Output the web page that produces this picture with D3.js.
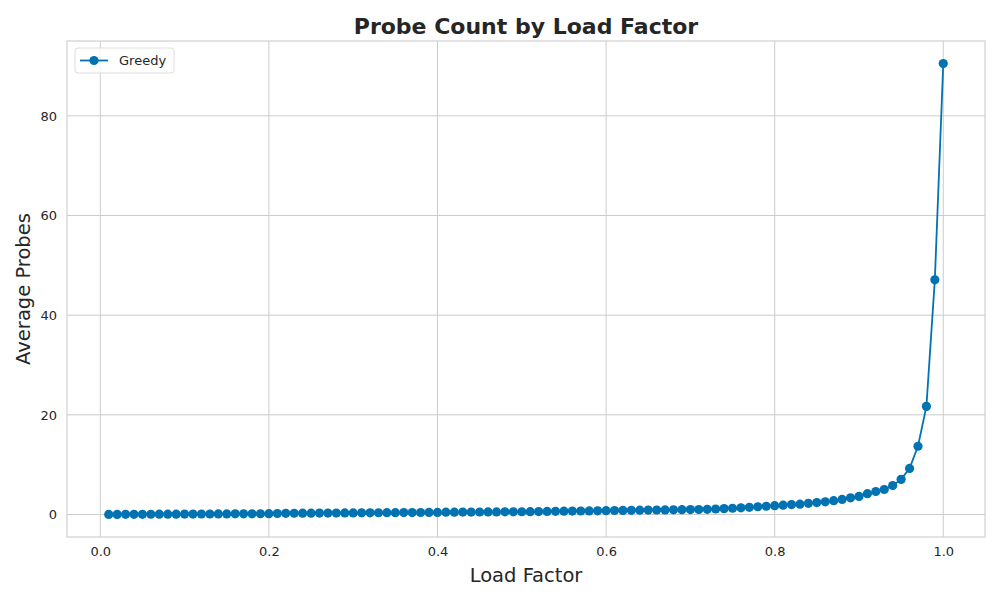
<!DOCTYPE html>
<html>
<head>
<meta charset="utf-8">
<script src="https://cdn.jsdelivr.net/npm/d3@7"></script>
<style>
  body { margin: 0; background: #fff; }
  svg { display: block; font-family: "DejaVu Sans", sans-serif; }
</style>
</head>
<body>
<div id="chart"></div>
<script>
/// chart data: load factors 0.01 .. 1.00 and average probe counts
var loadFactors = [
  0.01,0.02,0.03,0.04,0.05,0.06,0.07,0.08,0.09,0.10,
  0.11,0.12,0.13,0.14,0.15,0.16,0.17,0.18,0.19,0.20,
  0.21,0.22,0.23,0.24,0.25,0.26,0.27,0.28,0.29,0.30,
  0.31,0.32,0.33,0.34,0.35,0.36,0.37,0.38,0.39,0.40,
  0.41,0.42,0.43,0.44,0.45,0.46,0.47,0.48,0.49,0.50,
  0.51,0.52,0.53,0.54,0.55,0.56,0.57,0.58,0.59,0.60,
  0.61,0.62,0.63,0.64,0.65,0.66,0.67,0.68,0.69,0.70,
  0.71,0.72,0.73,0.74,0.75,0.76,0.77,0.78,0.79,0.80,
  0.81,0.82,0.83,0.84,0.85,0.86,0.87,0.88,0.89,0.90,
  0.91,0.92,0.93,0.94,0.95,0.96,0.97,0.98,0.99,1.00
]
var greedyProbes = [
  0.01,0.02,0.03,0.04,0.04,0.05,0.06,0.07,0.07,0.08,
  0.09,0.10,0.10,0.11,0.12,0.13,0.13,0.14,0.15,0.16,
  0.20,0.24,0.25,0.26,0.27,0.28,0.29,0.30,0.31,0.32,
  0.33,0.34,0.35,0.36,0.37,0.38,0.39,0.40,0.41,0.42,
  0.46,0.47,0.48,0.49,0.50,0.51,0.52,0.53,0.54,0.55,
  0.57,0.59,0.62,0.64,0.66,0.68,0.70,0.72,0.74,0.76,
  0.80,0.82,0.84,0.86,0.88,0.90,0.92,0.94,0.96,0.98,
  1.00,1.04,1.10,1.18,1.26,1.34,1.45,1.56,1.66,1.78,
  1.88,2.00,2.08,2.25,2.40,2.55,2.78,3.02,3.35,3.62,
  4.18,4.62,5.02,5.82,7.05,9.25,13.7,21.7,47.1,90.5
]
var xTicks = [0.0, 0.2, 0.4, 0.6, 0.8, 1.0]
var yTicks = [0, 20, 40, 60, 80]
var seriesName = "Greedy"

var W = 1000, H = 600
var m = {top: 41, right: 15, bottom: 63, left: 67}
var color = "#0173b2"
var gridColor = "#cccccc"
var textColor = "#262626"

var data = loadFactors.map((d,i) => ({x: d, y: greedyProbes[i]}))

/// matplotlib style 5% margins around the data
var xr = d3.extent(loadFactors), yr = d3.extent(greedyProbes)
var xpad = (xr[1]-xr[0])*0.05, ypad = (yr[1]-yr[0])*0.05

var x = d3.scaleLinear()
    .domain([xr[0]-xpad, xr[1]+xpad])
    .range([m.left, W-m.right])
var y = d3.scaleLinear()
    .domain([yr[0]-ypad, yr[1]+ypad])
    .range([H-m.bottom, m.top])

var svg = d3.select("#chart").append("svg")
    .attr("width", W).attr("height", H)

/// grid
svg.append("g").selectAll("line").data(xTicks).enter().append("line")
    .attr("x1", d => x(d)).attr("x2", d => x(d))
    .attr("y1", m.top).attr("y2", H-m.bottom)
    .attr("stroke", gridColor).attr("stroke-width", 1)
svg.append("g").selectAll("line").data(yTicks).enter().append("line")
    .attr("x1", m.left).attr("x2", W-m.right)
    .attr("y1", d => y(d)).attr("y2", d => y(d))
    .attr("stroke", gridColor).attr("stroke-width", 1)

/// frame
svg.append("rect")
    .attr("x", m.left).attr("y", m.top)
    .attr("width", W-m.left-m.right).attr("height", H-m.top-m.bottom)
    .attr("fill", "none").attr("stroke", gridColor).attr("stroke-width", 1.1)

/// axes (tick labels only, seaborn whitegrid has no tick marks)
var xAxis = svg.append("g")
    .attr("transform", "translate(0," + (H-m.bottom) + ")")
    .call(d3.axisBottom(x).tickValues(xTicks).tickFormat(d3.format(".1f")).tickSize(0).tickPadding(10))
var yAxis = svg.append("g")
    .attr("transform", "translate(" + m.left + ",0)")
    .call(d3.axisLeft(y).tickValues(yTicks).tickFormat(d3.format("d")).tickSize(0).tickPadding(10))
svg.selectAll(".domain").remove()
svg.selectAll(".tick text")
    .attr("font-family", "DejaVu Sans, sans-serif")
    .attr("font-size", "13px")
    .attr("fill", textColor)

/// line + markers
svg.append("path")
    .datum(data)
    .attr("d", d3.line().x(d => x(d.x)).y(d => y(d.y)))
    .attr("fill", "none").attr("stroke", color).attr("stroke-width", 1.8)
svg.append("g").selectAll("circle").data(data).enter().append("circle")
    .attr("cx", d => x(d.x)).attr("cy", d => y(d.y))
    .attr("r", 4.6).attr("fill", color)

/// title and labels
svg.append("text")
    .attr("x", (m.left + W - m.right)/2).attr("y", 34)
    .attr("text-anchor", "middle")
    .attr("font-size", "22px").attr("font-weight", "bold")
    .attr("fill", textColor)
    .text("Probe Count by Load Factor")
svg.append("text")
    .attr("x", (m.left + W - m.right)/2).attr("y", 582)
    .attr("text-anchor", "middle")
    .attr("font-size", "19.5px")
    .attr("fill", textColor)
    .text("Load Factor")
svg.append("text")
    .attr("transform", "translate(30," + ((m.top + H - m.bottom)/2) + ") rotate(-90)")
    .attr("text-anchor", "middle")
    .attr("font-size", "19.5px")
    .attr("fill", textColor)
    .text("Average Probes")

/// legend
var lg = svg.append("g").attr("transform", "translate(75,48)")
lg.append("rect")
    .attr("width", 99).attr("height", 25).attr("rx", 3)
    .attr("fill", "#fff").attr("fill-opacity", 0.8)
    .attr("stroke", "#dddddd")
lg.append("line")
    .attr("x1", 5).attr("x2", 33).attr("y1", 12.5).attr("y2", 12.5)
    .attr("stroke", color).attr("stroke-width", 1.8)
lg.append("circle")
    .attr("cx", 19).attr("cy", 12.5).attr("r", 4.6).attr("fill", color)
lg.append("text")
    .attr("x", 44).attr("y", 17)
    .attr("font-size", "13px").attr("fill", textColor)
    .text(seriesName)
</script>
</body>
</html>
